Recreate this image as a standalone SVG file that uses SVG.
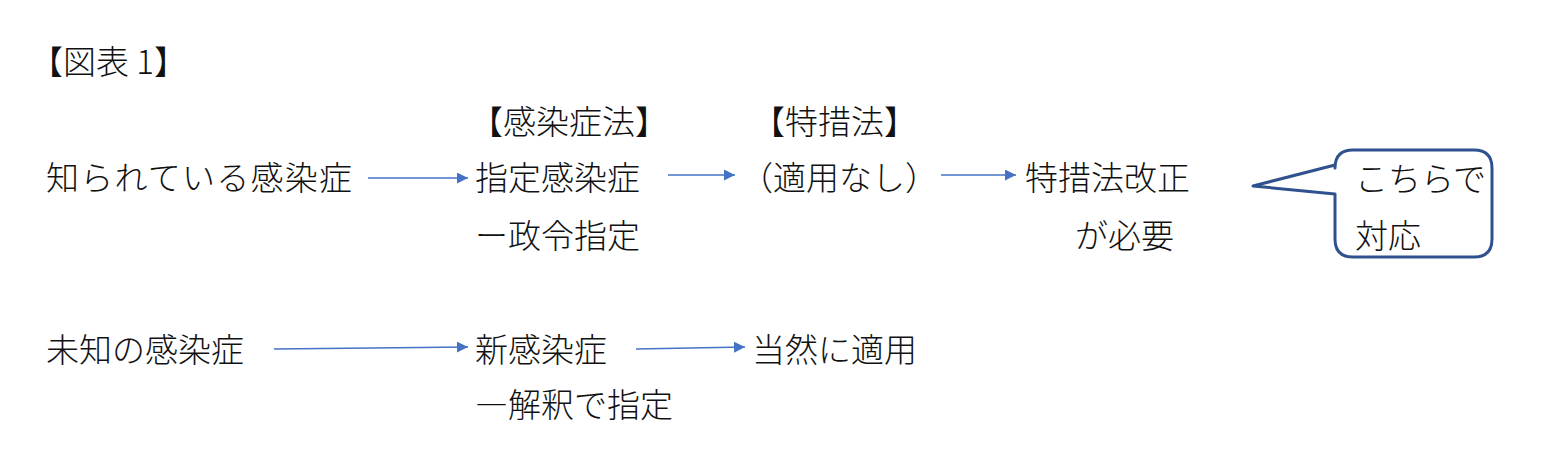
<svg xmlns="http://www.w3.org/2000/svg" width="1553" height="449" viewBox="0 0 1553 449">
<style>
text{font-family:"Noto Sans CJK JP","Noto Sans CJK SC",sans-serif;font-size:33px;fill:#111;font-weight:300}
.c line{stroke:#4472c4;stroke-width:1.6}
</style>
<defs><marker id="a" viewBox="0 0 10 10" refX="10" refY="5" markerWidth="11" markerHeight="11" markerUnits="userSpaceOnUse" orient="auto"><path d="M0,0L10,5L0,10z" fill="#4472c4"/></marker></defs>
<rect width="1553" height="449" fill="#fff"/>
<g id="title"><text x="30" y="74">【図表 1】</text></g>
<g id="h1"><text x="470" y="134">【感染症法】</text></g>
<g id="h2"><text x="752" y="134">【特措法】</text></g>
<g id="n1"><text x="46" y="190" textLength="306">知られている感染症</text></g>
<g id="n2"><text x="475" y="190">指定感染症</text><text x="475" y="248">ー政令指定</text></g>
<g id="n3"><text x="740" y="190">（適用なし）</text></g>
<g id="n4"><text x="1025" y="190">特措法改正</text><text x="1075" y="248">が必要</text></g>
<g id="n5"><text x="46" y="362">未知の感染症</text></g>
<g id="n6"><text x="475" y="362">新感染症</text><text x="475" y="417">―解釈で指定</text></g>
<g id="n7"><text x="752" y="362">当然に適用</text></g>
<g id="callout"><path d="M1353,150H1474Q1492,150 1492,168V239Q1492,257 1474,257H1353Q1335,257 1335,239V194L1253,186L1335,165V168Q1335,150 1353,150Z" fill="#fff" stroke="#2f528f" stroke-width="3" stroke-linejoin="round"/><text x="1355" y="191">こちらで</text><text x="1355" y="248">対応</text></g>
<g class="c">
<line x1="368" y1="178" x2="468" y2="178" marker-end="url(#a)"/>
<line x1="668" y1="175" x2="735" y2="175" marker-end="url(#a)"/>
<line x1="941" y1="175" x2="1016" y2="175" marker-end="url(#a)"/>
<line x1="274" y1="349" x2="468" y2="347" marker-end="url(#a)"/>
<line x1="636" y1="349" x2="745" y2="347" marker-end="url(#a)"/>
</g>
</svg>
